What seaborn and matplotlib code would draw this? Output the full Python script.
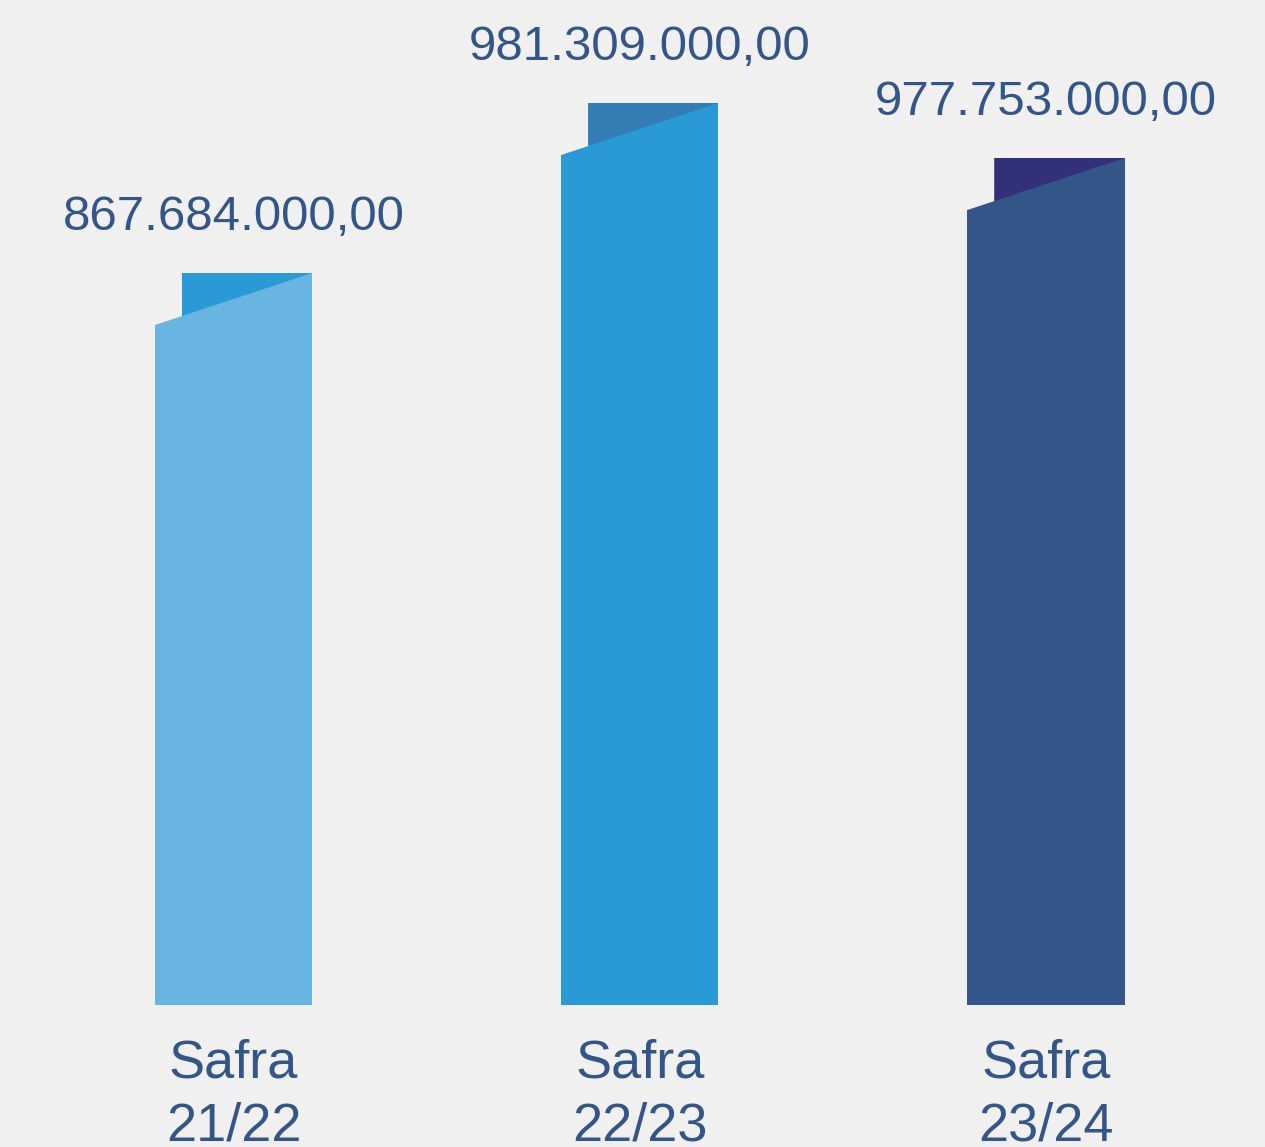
import numpy as np
import pandas as pd
import seaborn as sns
import matplotlib.pyplot as plt
from matplotlib.patches import Polygon

# data
categories = ["Safra\n21/22", "Safra\n22/23", "Safra\n23/24"]
value_labels = ["867.684.000,00", "981.309.000,00", "977.753.000,00"]
# drawn bar heights (the source chart is not to scale, heights estimated in px)
bar_heights = [732, 902, 847]

front_colors = ["#69B5E1", "#2A9AD6", "#34558A"]
back_colors = ["#2A9AD6", "#337DB5", "#33307A"]
BG = "#F0F0F0"
TEXT = "#34558A"

sns.set_theme(style="white")
plt.rcParams['font.family'] = ['Liberation Sans', 'DejaVu Sans']

df = pd.DataFrame({"cat": categories, "h": bar_heights})

fig = plt.figure(figsize=(12.65, 11.47), dpi=100, facecolor=BG)
ax = fig.add_axes([0, 142 / 1147, 1, 1005 / 1147])
ax.set_facecolor(BG)

sns.barplot(data=df, x="cat", y="h", hue="cat", palette=front_colors,
            width=0.387, saturation=1, legend=False, linewidth=0, ax=ax)

ax.set_xlim(-0.575, 2.539)
ax.set_ylim(0, 1005)

# folded top corner on every bar
fold_dx = 27 / 406.25
fold_dy = 52
for i, bar in enumerate(ax.patches):
    bar.set_edgecolor("none")
    left = bar.get_x()
    right = left + bar.get_width()
    top = bar.get_height()
    mid_y = top - fold_dy + fold_dy * fold_dx / bar.get_width()
    # cut out the top-left corner (slightly wider than the bar to hide edges)
    ax.add_patch(Polygon([(left - 0.01, top + 1), (left + fold_dx, top + 1),
                          (left + fold_dx, mid_y), (left, top - fold_dy),
                          (left - 0.01, top - fold_dy)], closed=True,
                         facecolor=BG, edgecolor="none", zorder=3))
    # back side of the fold
    ax.add_patch(Polygon([(left + fold_dx, top), (right, top), (left + fold_dx, mid_y)],
                         closed=True, facecolor=back_colors[i], edgecolor="none", zorder=3))
    ax.text(left + bar.get_width() / 2, top + 43, value_labels[i], ha="center",
            va="baseline", fontsize=35.5, color=TEXT, zorder=4)

ax.set_xlabel("")
ax.set_ylabel("")
ax.set_yticks([])
ax.tick_params(axis="x", length=0, pad=24, labelsize=39, labelcolor=TEXT)
for lbl in ax.get_xticklabels():
    lbl.set_linespacing(1.35)
sns.despine(ax=ax, left=True, bottom=True)

fig.savefig("out.png", dpi=100, facecolor=BG)
